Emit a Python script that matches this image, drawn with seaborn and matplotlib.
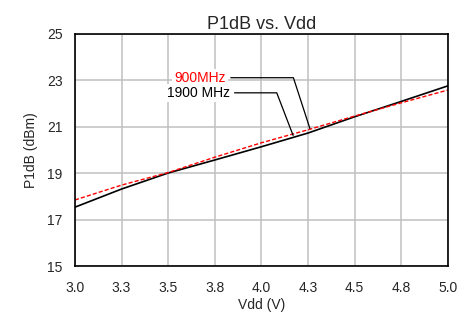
import numpy as np
import pandas as pd
import matplotlib
matplotlib.use('Agg')
import matplotlib.pyplot as plt
import seaborn as sns

vdd = [3.0, 3.25, 3.5, 3.75, 4.0, 4.25, 4.5, 4.75, 5.0]
p1db_900 = [17.84, 18.48, 19.02, 19.68, 20.30, 20.86, 21.45, 22.02, 22.57]
p1db_1900 = [17.53, 18.31, 19.00, 19.56, 20.13, 20.72, 21.42, 22.08, 22.75]
x_ticks = [3.0, 3.25, 3.5, 3.75, 4.0, 4.25, 4.5, 4.75, 5.0]
x_tick_labels = ['3.0', '3.3', '3.5', '3.8', '4.0', '4.3', '4.5', '4.8', '5.0']
y_ticks = [15, 17, 19, 21, 23, 25]

sns.set_style('white')
plt.rcParams['font.family'] = ['Liberation Sans', 'DejaVu Sans']

df = pd.DataFrame({'vdd': vdd, '900MHz': p1db_900, '1900 MHz': p1db_1900})

fig = plt.figure(figsize=(4.68, 3.18), dpi=100)
ax = fig.add_axes([0.160, 0.1635, 0.797, 0.731])

sns.lineplot(data=df, x='vdd', y='1900 MHz', color='black', linewidth=1.2, ax=ax)
sns.lineplot(data=df, x='vdd', y='900MHz', color='red', linewidth=1.0,
             linestyle=(0, (3, 1.5)), ax=ax)

ax.set_xlim(3.0, 5.0)
ax.set_ylim(15, 25)
ax.set_xticks(x_ticks)
ax.set_xticklabels(x_tick_labels)
ax.set_yticks(y_ticks)
ax.tick_params(labelsize=10, length=0)
ax.tick_params(axis='x', pad=11)
ax.tick_params(axis='y', pad=9)
ax.grid(True, color='#c0c0c0', linewidth=1.1)
ax.set_axisbelow(True)
for s in ax.spines.values():
    s.set_color('black')
    s.set_linewidth(1.2)

ax.set_title('P1dB vs. Vdd', fontsize=13, pad=3)
ax.set_xlabel('Vdd (V)', fontsize=10, labelpad=2)
ax.set_ylabel('P1dB (dBm)', fontsize=10, labelpad=6)

box = dict(boxstyle='square,pad=0.15', fc='white', ec='none')
ax.annotate('900MHz', xy=(4.26, 20.92), xytext=(3.81, 23.1),
            ha='right', va='center', color='red', fontsize=10, bbox=box,
            arrowprops=dict(arrowstyle='-', color='black', lw=0.9,
                            connectionstyle='angle,angleA=0,angleB=108,rad=0',
                            shrinkA=2, shrinkB=0))
ax.annotate('1900 MHz', xy=(4.17, 20.62), xytext=(3.83, 22.45),
            ha='right', va='center', color='black', fontsize=10, bbox=box,
            arrowprops=dict(arrowstyle='-', color='black', lw=0.9,
                            connectionstyle='angle,angleA=0,angleB=111,rad=0',
                            shrinkA=2, shrinkB=0))

fig.savefig('out.png', dpi=100)
